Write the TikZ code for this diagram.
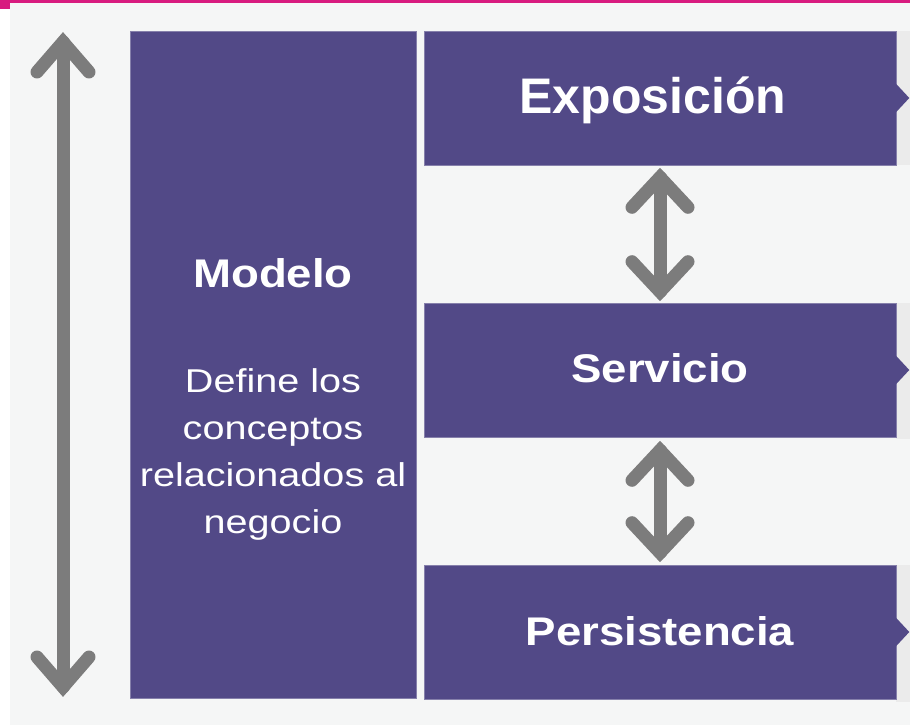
\documentclass[tikz,border=0pt]{standalone}
\usepackage{fontspec}
\setmainfont{Liberation Sans}
\usetikzlibrary{calc}
\definecolor{purp}{HTML}{524987}
\definecolor{bgc}{HTML}{F5F6F6}
\definecolor{stripc}{HTML}{EBEBEB}
\definecolor{magc}{HTML}{D81B7F}
\definecolor{arrc}{HTML}{7C7C7C}
\newcommand\garr[4]{%
  \draw[garrow] (#1) -- (#2);
  \draw[garrow] ($(#1)+(-#3,#4)$) -- (#1) -- ($(#1)+(#3,#4)$);
  \draw[garrow] ($(#2)+(-#3,-#4)$) -- (#2) -- ($(#2)+(#3,-#4)$);}
\begin{document}
\begin{tikzpicture}[x=1pt,y=-1pt,
  box/.style={fill=purp, draw=purp!70!white, line width=0.6pt, inner sep=0pt},
  garrow/.style={draw=arrc, line width=13pt, line cap=round, line join=miter},
  title/.style={text=white, font=\bfseries\fontsize{40}{47}\selectfont, anchor=base, inner sep=0pt},
  desc/.style={text=white, font=\fontsize{33}{47}\selectfont, anchor=base, inner sep=0pt}]
\useasboundingbox (0,0) rectangle (910,725);
\fill[white] (0,0) rectangle (910,725);
\fill[bgc] (10,3) rectangle (910,725);
\fill[magc] (0,0) rectangle (910,3);
\fill[magc] (0,0) rectangle (10,9);
% gray strips at the right edge
\fill[stripc] (896,31) rectangle (910,165);
\fill[stripc] (896,303) rectangle (910,439);
\fill[stripc] (896,565) rectangle (910,702);
% boxes
\node[box, minimum width=286pt, minimum height=667pt] (model) at (273,364.5) {};
\node[box, minimum width=472pt, minimum height=134pt] (expo) at (660,98) {};
\node[box, minimum width=472pt, minimum height=134pt] (serv) at (660,370) {};
\node[box, minimum width=472pt, minimum height=134pt] (pers) at (660,632) {};
% chevron tips
\foreach \b in {expo,serv,pers}
  \fill[purp] ($(\b.east)+(-1,-15)$) -- ($(\b.east)+(13,0)$) -- ($(\b.east)+(-1,15)$) -- cycle;
% texts
\node[title, font=\bfseries\fontsize{50}{56}\selectfont] (texpo) at (653,113) {Exposición};
\node[title] (tserv) at (660,382) {\scalebox{1.14}[1]{Servicio}};
\node[title] (tpers) at (660,645) {\scalebox{1.14}[1]{Persistencia}};
\node[title] (tmodel) at (273,287) {\scalebox{1.14}[1]{Modelo}};
\node[desc] (d1) at (273,392) {\scalebox{1.2}[1]{Define los}};
\node[desc] (d2) at (273,439) {\scalebox{1.2}[1]{conceptos}};
\node[desc] (d3) at (273,486) {\scalebox{1.2}[1]{relacionados al}};
\node[desc] (d4) at (273,533) {\scalebox{1.2}[1]{negocio}};
% arrows
\coordinate (lt) at (63,42);
\coordinate (lb) at (63,687);
\garr{lt}{lb}{26}{30}
\coordinate (a1) at ($(expo.south)+(0,12)$);
\coordinate (a2) at ($(serv.north)+(0,-11)$);
\garr{a1}{a2}{28}{30}
\coordinate (b1) at ($(serv.south)+(0,13)$);
\coordinate (b2) at ($(pers.north)+(0,-12)$);
\garr{b1}{b2}{28}{30}
\end{tikzpicture}
\end{document}
